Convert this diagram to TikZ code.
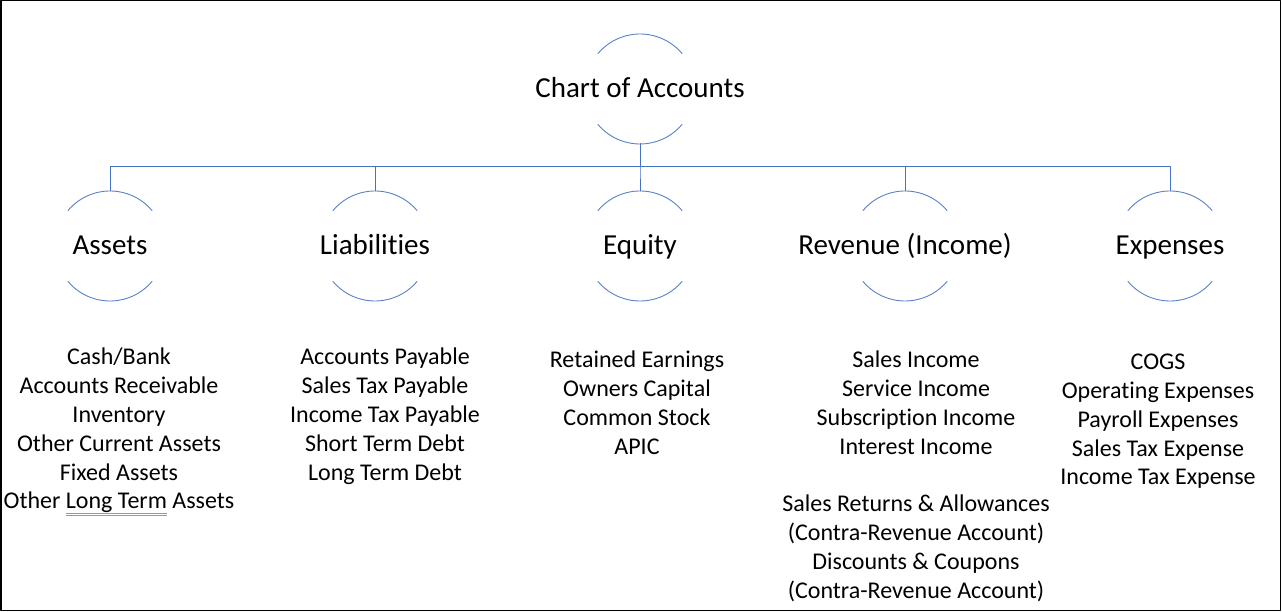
\documentclass[tikz,border=0pt]{standalone}
\usepackage{fontspec}
\setmainfont{Carlito}[Ligatures=NoCommon]
\usetikzlibrary{positioning}
\usepackage{color}

\definecolor{arcblue}{RGB}{91,128,196}
\definecolor{lineblue}{RGB}{68,114,196}
\definecolor{spellblue}{RGB}{120,155,225}

% spell check mark under a word
\newcommand\spellmark[1]{\setbox0\hbox{#1}%
\rlap{\color{spellblue}\raisebox{-5pt}{\rule{\wd0}{0.8pt}}}%
\rlap{\color{spellblue}\raisebox{-7pt}{\rule{\wd0}{0.8pt}}}#1}

\tikzset{
  acct/.style={inner sep=0pt,text height=21pt,text depth=3pt,font=\fontsize{29}{32}\selectfont},
  items/.style={align=center,anchor=north,inner sep=0pt,font=\fontsize{24}{28.8}\selectfont},
  arcline/.style={color=arcblue,line width=0.9pt},
  conn/.style={color=lineblue,line width=1pt}
}

\begin{document}
\begin{tikzpicture}[x=1pt,y=1pt,line cap=round,line join=round]

		\useasboundingbox (0,0) rectangle (1282,612);
		%kehys
		\draw[line width=1.5pt] (0.75,1.3) rectangle (1280.5,611.25);

		%otsikko
		\node[acct] (chart) at (640,523) {Chart of Accounts};

		%tililajit
		\foreach \name/\x/\txt in {assets/110/Assets,liab/375/Liabilities,equity/640/Equity,rev/905/{Revenue (Income)},exp/1170/Expenses}
		{
		\node[acct] (\name) at (\x,366) {\txt};
		\draw[conn] ([yshift=-55pt]chart.center)--++(0,-23) -| ([yshift=55pt]\name.center);
		}

		%kaaret
		\foreach \n in {chart,assets,liab,equity,rev,exp}
		{
		\draw[arcline] ([shift={(40:55)}]\n.center) arc (40:140:55);
		\draw[arcline] ([shift={(220:55)}]\n.center) arc (220:320:55);
		}

		% tilit
		\node[items] (assetlist) at (119,264) {Cash/Bank\\Accounts Receivable\\Inventory\\Other Current Assets\\Fixed Assets\\Other \spellmark{Long Term} Assets};

		\node[items] (liablist) at (385,264) {Accounts Payable\\Sales Tax Payable\\Income Tax Payable\\Short Term Debt\\Long Term Debt};

		\node[items] (equitylist) at (637,261) {Retained Earnings\\Owners Capital\\Common Stock\\APIC};

		\node[items] (revlist) at (916,261) {Sales Income\\Service Income\\Subscription Income\\Interest Income\\[28.8pt]Sales Returns \& Allowances\\(Contra-Revenue Account)\\Discounts \& Coupons\\(Contra-Revenue Account)};

		\node[items] (explist) at (1158,258) {COGS\\Operating Expenses\\Payroll Expenses\\Sales Tax Expense\\Income Tax Expense};

	\end{tikzpicture}
\end{document}
